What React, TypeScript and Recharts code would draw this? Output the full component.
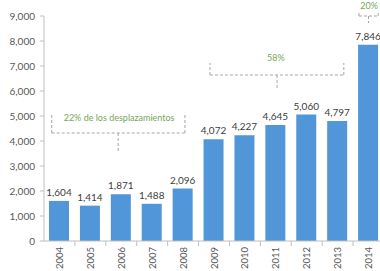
import React from 'react';
import { BarChart, Bar, XAxis, YAxis, LabelList, ReferenceLine, ReferenceDot } from 'recharts';

const years = ['2004', '2005', '2006', '2007', '2008', '2009', '2010', '2011', '2012', '2013', '2014'];
const values = [1604, 1414, 1871, 1488, 2096, 4072, 4227, 4645, 5060, 4797, 7846];
const yTicks = [0, 1000, 2000, 3000, 4000, 5000, 6000, 7000, 8000, 9000];

// Annotation brackets in data units (x = category index on a helper axis)
const bracketLabels = ['22% de los desplazamientos', '58%', '20%'];
const bracketX0 = [-0.25, 4.87, 9.69];
const bracketX1 = [4.06, 9.2, 10.31];
const bracketXc = [1.9, 7.04, 10.0];
const bracketYLine = [4320, 6640, 9000];
const bracketYTop = [5080, 7120, 9200];
const bracketYTip = [3520, 6040, 8720];
const bracketTextX = [1.93, 7.0, 10.02];
const bracketTextY = [4920, 7320, 9400];

const data = years.map((year, i) => ({ year, value: values[i], idx: i }));

const W = 400;
const H = 271;
const M = { top: 16, right: 16, left: 0, bottom: 0 };
const Y_AXIS_W = 44;
const STEP = (W - M.left - M.right - Y_AXIS_W) / years.length;
const FONT = 'Lato, "Open Sans", sans-serif';
const AXIS = '#bfbfbf';
const TEXT = '#595959';
const GREEN = '#7ca35b';
const DASH = '#a6a6a6';
const TICK_SIZE = 5;
const TICK_MARGIN = 1;

const fmt = (v: number) => v.toLocaleString('en-US');

const YearTick = (props: any) => {
  const { x, y, payload } = props;
  const axisY = y - TICK_SIZE - TICK_MARGIN;
  return (
    <g>
      <line x1={x + STEP / 2} x2={x + STEP / 2} y1={axisY} y2={axisY + TICK_SIZE} stroke={AXIS} />
      <text
        x={x}
        y={y}
        transform={`rotate(-90 ${x} ${y})`}
        textAnchor="end"
        dominantBaseline="central"
        fontSize={9.5}
        fill={TEXT}
        fontFamily={FONT}
      >
        {payload.value}
      </text>
    </g>
  );
};

export default function App() {
  const dashProps = { stroke: DASH, strokeDasharray: '3 2', strokeWidth: 1, ifOverflow: 'visible' as const, xAxisId: 'ann' };
  return (
    <div style={{ position: 'absolute', left: 0, top: 0, width: 380, height: 271, overflow: 'hidden', background: '#fff' }}>
      <BarChart width={W} height={H} data={data} margin={M} barSize={20}>
        <XAxis
          dataKey="year"
          height={30}
          axisLine={{ stroke: AXIS }}
          tickLine={false}
          tickSize={TICK_SIZE}
          tickMargin={TICK_MARGIN}
          tick={<YearTick />}
          interval={0}
        />
        <XAxis xAxisId="ann" dataKey="idx" type="number" domain={[-0.5, 10.5]} allowDataOverflow hide />
        <YAxis
          width={Y_AXIS_W}
          domain={[0, 9000]}
          ticks={yTicks}
          tickFormatter={fmt}
          axisLine={{ stroke: AXIS }}
          tickLine={{ stroke: AXIS }}
          tickSize={4}
          tickMargin={5}
          tick={{ fontSize: 10, fill: TEXT, fontFamily: FONT }}
          interval={0}
        />
        <Bar dataKey="value" fill="#5096d8" isAnimationActive={false}>
          <LabelList
            dataKey="value"
            position="top"
            offset={5}
            formatter={(v: any) => fmt(Number(v))}
            style={{ fontSize: 10, fill: '#404040', fontFamily: FONT }}
          />
        </Bar>
        {bracketLabels.map((label, i) => (
          <React.Fragment key={label}>
            <ReferenceLine {...dashProps} segment={[{ x: bracketX0[i], y: bracketYLine[i] }, { x: bracketX1[i], y: bracketYLine[i] }]} />
            <ReferenceLine {...dashProps} segment={[{ x: bracketX0[i], y: bracketYLine[i] }, { x: bracketX0[i], y: bracketYTop[i] }]} />
            <ReferenceLine {...dashProps} segment={[{ x: bracketX1[i], y: bracketYLine[i] }, { x: bracketX1[i], y: bracketYTop[i] }]} />
            <ReferenceLine {...dashProps} segment={[{ x: bracketXc[i], y: bracketYLine[i] }, { x: bracketXc[i], y: bracketYTip[i] }]} />
            <ReferenceDot
              xAxisId="ann"
              x={bracketTextX[i]}
              y={bracketTextY[i]}
              r={0}
              fill="none"
              stroke="none"
              ifOverflow="visible"
              label={{ value: label, position: 'center', fill: GREEN, fontSize: 9, fontFamily: FONT }}
            />
          </React.Fragment>
        ))}
      </BarChart>
    </div>
  );
}
